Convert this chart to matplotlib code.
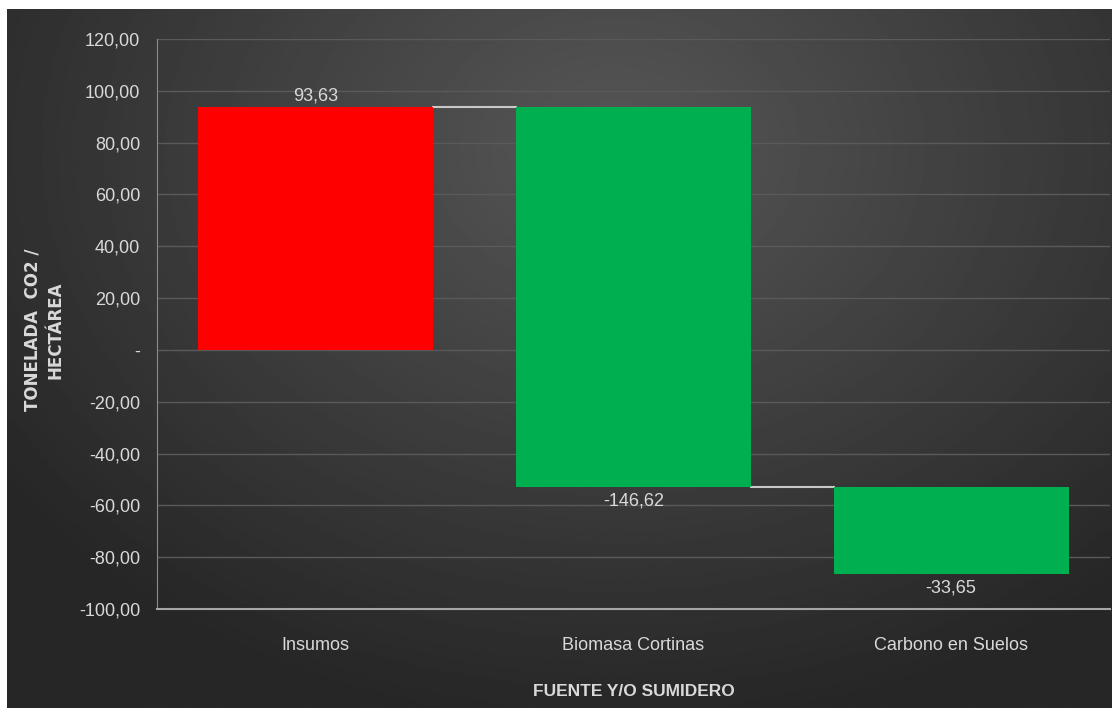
import numpy as np
import matplotlib.pyplot as plt
from matplotlib.ticker import FuncFormatter

# data
categorias = ["Insumos", "Biomasa Cortinas", "Carbono en Suelos"]
valores = [93.63, -146.62, -33.65]
colores = ["#ff0000", "#00b050", "#00b050"]

fam = ["Liberation Sans", "DejaVu Sans"]
plt.rcParams['font.family'] = fam

fig = plt.figure(figsize=(11.12, 7.08), dpi=100)
fig.patch.set_facecolor("white")

# dark radial background, lighter near the upper middle
bg = fig.add_axes([7 / 1112, 0, 1 - 7 / 1112, 1 - 9 / 708], zorder=-10)
yy, xx = np.mgrid[1:0:300j, 0:1:500j]
r = np.sqrt(((xx - 0.55) * 1.1) ** 2 + ((yy - 0.8) * 0.9) ** 2)
shade = 0.34 - 0.19 * np.clip(r / 0.75, 0, 1)
bg.imshow(shade, cmap="gray", vmin=0, vmax=1, aspect="auto", extent=[0, 1, 0, 1])
bg.set_axis_off()

ax = fig.add_axes([157 / 1112, 1 - 609 / 708, (1110 - 157) / 1112, (609 - 39) / 708])
ax.set_facecolor("none")

# waterfall bases
bases = []
acum = 0.0
for v in valores:
    bases.append(acum)
    acum += v
x = np.arange(len(categorias))
w = 0.74
ax.bar(x, valores, bottom=bases, width=w, color=colores, zorder=3)

# connectors
for i in range(len(valores) - 1):
    nivel = bases[i] + valores[i]
    ax.plot([x[i] + w / 2, x[i + 1] - w / 2], [nivel, nivel], color="#c8c8c8", lw=1.5, zorder=2)

# labels
for i, v in enumerate(valores):
    top = bases[i] + v
    txt = "{:.2f}".format(v).replace(".", ",")
    if v >= 0:
        ax.text(x[i], top + 1, txt, ha="center", va="bottom", color="#d9d9d9", fontsize=13)
    else:
        ax.text(x[i], top - 2, txt, ha="center", va="top", color="#d9d9d9", fontsize=13)

ax.set_xlim(-0.5, 2.5)
ax.set_ylim(-100, 120)
ax.set_yticks(np.arange(-100, 121, 20))


def fmt(v, pos):
    if abs(v) < 1e-9:
        return "-"
    return "{:.2f}".format(v).replace(".", ",")


ax.yaxis.set_major_formatter(FuncFormatter(fmt))
ax.set_xticks(x)
ax.set_xticklabels(categorias)
ax.tick_params(axis="both", length=0, colors="#d9d9d9", labelsize=13)
ax.tick_params(axis="x", pad=20)
ax.tick_params(axis="y", pad=12)
ax.grid(axis="y", color="#5a5a5a", lw=1, zorder=0)

for s in ["top", "right"]:
    ax.spines[s].set_visible(False)
ax.spines["left"].set_color("#8c8c8c")
ax.spines["bottom"].set_color("#a6a6a6")
ax.spines["bottom"].set_linewidth(1.5)

ax.set_xlabel("FUENTE Y/O SUMIDERO", color="#d9d9d9", fontsize=12.5, fontweight="bold", labelpad=22)
fig.text(44 / 1112, 1 - 330 / 708, "TONELADA  CO2 /\nHECTÁREA", rotation=90, ha="center", va="center",
         color="#d9d9d9", fontsize=12, fontweight="bold", family=["DejaVu Sans"], linespacing=1.3)

fig.savefig("out.png", dpi=100, facecolor=fig.get_facecolor())
